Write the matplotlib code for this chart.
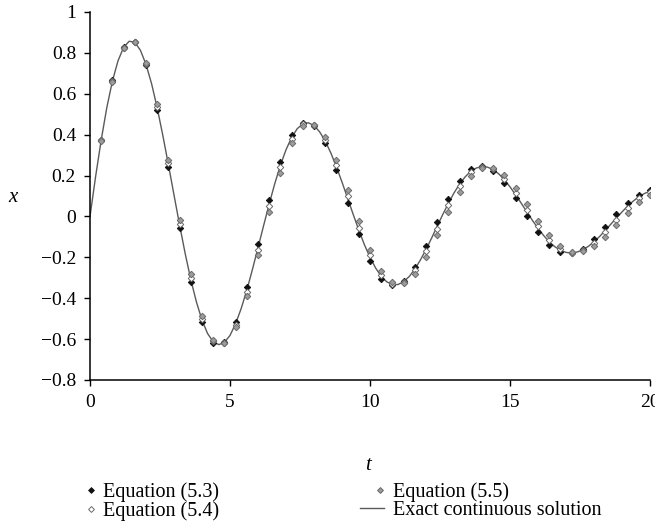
import numpy as np
import matplotlib
matplotlib.use("Agg")
import matplotlib.pyplot as plt
from matplotlib.legend_handler import HandlerLine2D

# Exact continuous solution, sampled every 0.2 from t=0 to 20
t_line = [round(0.2 * i, 1) for i in range(101)]
x_exact = [.000,.195,.374,.532,.662,.761,.827,.857,.852,.813,.744,.649,.531,.397,.253,.105,-.042,-.182,-.309,-.418,-.507,-.573,-.613,-.627,-.616,-.582,-.525,-.450,-.361,-.260,-.153,-.045,.061,.161,.250,.326,.386,.429,.453,.458,.445,.414,.369,.311,.243,.168,.089,.010,-.067,-.138,-.200,-.252,-.293,-.320,-.333,-.333,-.319,-.294,-.258,-.213,-.162,-.106,-.048,.010,.064,.115,.158,.194,.221,.237,.244,.241,.229,.208,.179,.145,.106,.065,.023,-.019,-.058,-.093,-.124,-.148,-.165,-.176,-.179,-.174,-.163,-.146,-.124,-.098,-.069,-.038,-.008,.022,.050,.075,.096,.112,.124]

# Discrete solutions, every 0.4 from t=0.4 to 20
t_pts = [round(0.4 * i, 1) for i in range(1, 51)]
x_eq53 = [.376,.665,.829,.852,.740,.523,.241,-.056,-.322,-.518,-.618,-.615,-.516,-.345,-.134,.082,.268,.399,.458,.441,.357,.225,.067,-.088,-.218,-.304,-.337,-.314,-.245,-.143,-.027,.085,.175,.230,.246,.223,.166,.089,.003,-.076,-.138,-.173,-.179,-.157,-.112,-.053,.010,.066,.107,.129]
x_eq54 = [.373,.661,.825,.852,.747,.536,.259,-.035,-.302,-.502,-.610,-.617,-.530,-.368,-.163,.051,.241,.380,.450,.446,.374,.251,.100,-.056,-.191,-.286,-.331,-.322,-.264,-.171,-.059,.054,.150,.215,.243,.231,.185,.115,.032,-.049,-.116,-.161,-.178,-.166,-.130,-.077,-.016,.042,.090,.120]
x_eq55 = [.370,.656,.822,.852,.752,.548,.277,-.015,-.281,-.486,-.602,-.619,-.542,-.390,-.191,.021,.214,.359,.440,.449,.390,.277,.131,-.023,-.162,-.266,-.322,-.325,-.280,-.196,-.090,.022,.122,.196,.235,.236,.201,.139,.061,-.020,-.092,-.145,-.172,-.171,-.145,-.099,-.041,.018,.069,.107]

x_ticks = [0, 5, 10, 15, 20]
x_ticklabels = ["0", "5", "10", "15", "20"]
y_ticks = [-0.8, -0.6, -0.4, -0.2, 0, 0.2, 0.4, 0.6, 0.8, 1]
y_ticklabels = ["\u22120.8", "\u22120.6", "\u22120.4", "\u22120.2", "0", "0.2", "0.4", "0.6", "0.8", "1"]
legend_labels = ['Equation (5.3)', 'Equation (5.4)', 'Equation (5.5)',
                 'Exact continuous solution']

plt.rcParams['font.family'] = ['Liberation Serif', 'DejaVu Serif']
plt.rcParams['font.size'] = 14


class RightMarker(HandlerLine2D):
    """Place the single legend marker near the right end of the handle."""
    def get_xdata(self, legend, xdescent, ydescent, width, height, fontsize):
        xm = width - xdescent - 3.0
        return np.array([xm - 1.0, xm + 1.0]), np.array([xm])


fig = plt.figure(figsize=(6.55, 5.21), dpi=100)
ax = fig.add_axes([90/655, 141/521, 560/655, 368/521])

hline, = ax.plot(t_line, x_exact, color='#5a5a5a', lw=1.0, zorder=2)
ms = 3.3
h53, = ax.plot(t_pts, x_eq53, ls='none', marker='D', ms=ms, mfc='#111111',
               mec='#111111', mew=0.6, zorder=3)
h54, = ax.plot(t_pts, x_eq54, ls='none', marker='D', ms=ms, mfc='white',
               mec='#6a6a6a', mew=0.7, zorder=3)
h55, = ax.plot(t_pts, x_eq55, ls='none', marker='D', ms=ms, mfc='#9c9c9c',
               mec='#6a6a6a', mew=0.7, zorder=4)

ax.set_xlim(0, 20)
ax.set_ylim(-0.8, 1)
ax.set_xticks(x_ticks)
ax.set_xticklabels(x_ticklabels)
ax.set_yticks(y_ticks)
ax.set_yticklabels(y_ticklabels)
for s in ['top', 'right']:
    ax.spines[s].set_visible(False)
for s in ['left', 'bottom']:
    ax.spines[s].set_linewidth(1.1)
ax.tick_params(direction='out', length=4, width=1.0, labelsize=14)
ax.tick_params(axis='x', pad=6)
ax.tick_params(axis='y', pad=6)

fig.text(13/655, 1 - 197/521, 'x', style='italic', fontsize=15,
         ha='center', va='center')
fig.text(368/655, 1 - 466/521, 't', style='italic', fontsize=15,
         ha='center', va='center')

rm = RightMarker(numpoints=1)
leg = fig.legend([h53, h54, h55, hline], legend_labels,
                 ncol=2, frameon=False, loc='upper left',
                 bbox_to_anchor=(71/655, 1 - 482/521),
                 fontsize=14.5, markerscale=0.9, handlelength=1.2,
                 handletextpad=0.4, columnspacing=7.0, labelspacing=-0.04,
                 borderpad=0, borderaxespad=0,
                 handler_map={h53: rm, h54: rm, h55: rm})

fig.savefig('out.png', dpi=100)
